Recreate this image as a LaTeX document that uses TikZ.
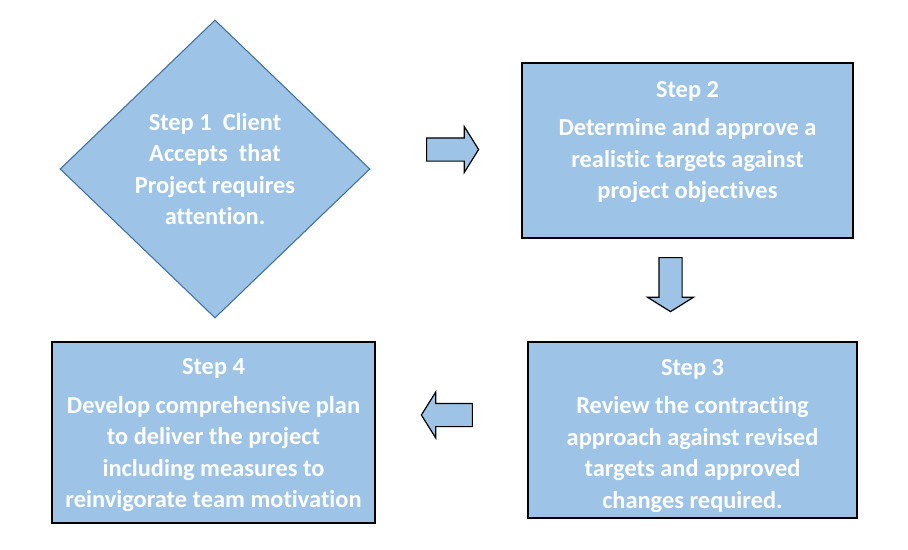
\documentclass[tikz,border=0pt]{standalone}
\usepackage{fontspec}
\setmainfont{Carlito}[Ligatures=NoCommon]
\usetikzlibrary{positioning,shapes.geometric,shapes.arrows}
\definecolor{stepfill}{HTML}{9DC3E6}
\definecolor{diamondline}{HTML}{41719C}

\begin{document}
\begin{tikzpicture}[x=0.75pt,y=-0.75pt,
		steptext/.style={text=white,font=\fontsize{18.3pt}{23.6pt}\selectfont\bfseries,align=center},
		stepbox/.style={draw=black,line width=1.1pt,fill=stepfill,steptext,inner sep=0pt},
		stepdiamond/.style={diamond,draw=diamondline,line width=0.8pt,fill=stepfill,steptext,inner sep=0pt,
			minimum width=232.5pt,minimum height=223.5pt},
		blockarrow/.style={single arrow,draw=black,line width=0.9pt,fill=stepfill,
			inner sep=8.25pt,minimum width=33.75pt,single arrow head extend=8.6pt,
			single arrow tip angle=116}]
		
		\useasboundingbox (0,0) rectangle (908,550);
		
		\node[stepdiamond] (S1) at (215,169)
		{Step 1\ \ Client\\Accepts\ \ that\\Project requires\\attention.};
		
		\node[stepbox,minimum width=248.25pt,minimum height=131.25pt] (S2) at (687.5,150.5)
		{Step 2\\[4.8pt]Determine and approve a\\realistic targets against\\project objectives\\[-8pt]\mbox{}};
		
		\node[stepbox,minimum width=246.75pt,minimum height=132pt] (S3) at (692.5,430)
		{\rule{0pt}{20.8pt}Step 3\\[5.2pt]Review the contracting\\approach against revised\\targets and approved\\changes required.};
		
		\node[stepbox,minimum width=242.25pt,minimum height=135.75pt] (S4) at (213.5,432.5)
		{\rule{0pt}{16.3pt}Step 4\\[5.2pt]Develop comprehensive plan\\to deliver the project\\including measures to\\reinvigorate team motivation};
		
		% block arrows between the steps
		\node[blockarrow,minimum height=39pt] (A12) at (449,149.5) {};
		\node[blockarrow,minimum height=40.5pt,shape border rotate=270] (A23) at (670.5,281) {};
		\node[blockarrow,minimum height=38.25pt,shape border rotate=180] (A34) at (450.5,415) {};
		
	\end{tikzpicture}
\end{document}
